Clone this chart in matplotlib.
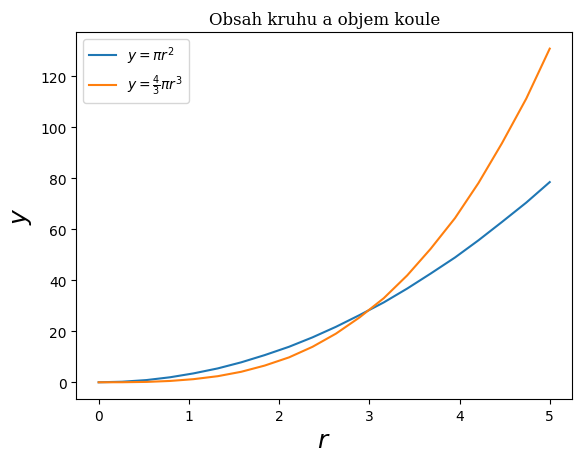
import matplotlib.pyplot as plt

# poloměr a hodnoty
r = [0.0, 0.26, 0.53, 0.79, 1.05, 1.32, 1.58, 1.84, 2.11, 2.37,
     2.63, 2.89, 3.16, 3.42, 3.68, 3.95, 4.21, 4.47, 4.74, 5.0]
obsah = [0.0, 0.22, 0.87, 1.96, 3.48, 5.44, 7.83, 10.66, 13.93, 17.62,
         21.76, 26.33, 31.33, 36.77, 42.65, 48.96, 55.70, 62.88, 70.50, 78.54]
objem = [0.0, 0.02, 0.15, 0.52, 1.22, 2.39, 4.12, 6.55, 9.77, 13.91,
         19.08, 25.40, 32.98, 41.93, 52.37, 64.41, 78.17, 93.76, 111.30, 130.90]

fig, ax = plt.subplots(figsize=(5.81, 4.64), dpi=100)
fig.subplots_adjust(left=0.131, right=0.985, top=0.929, bottom=0.138)

ax.plot(r, obsah, label=r'$y = \pi r^2$')
ax.plot(r, objem, label=r'$y = \frac{4}{3}\pi r^3$')

ax.set_title('Obsah kruhu a objem koule', fontfamily='DejaVu Serif')
ax.set_xlabel(r'$r$', fontsize=18)
ax.set_ylabel(r'$y$', fontsize=18)
ax.legend(loc='upper left')

fig.savefig('out.png')
